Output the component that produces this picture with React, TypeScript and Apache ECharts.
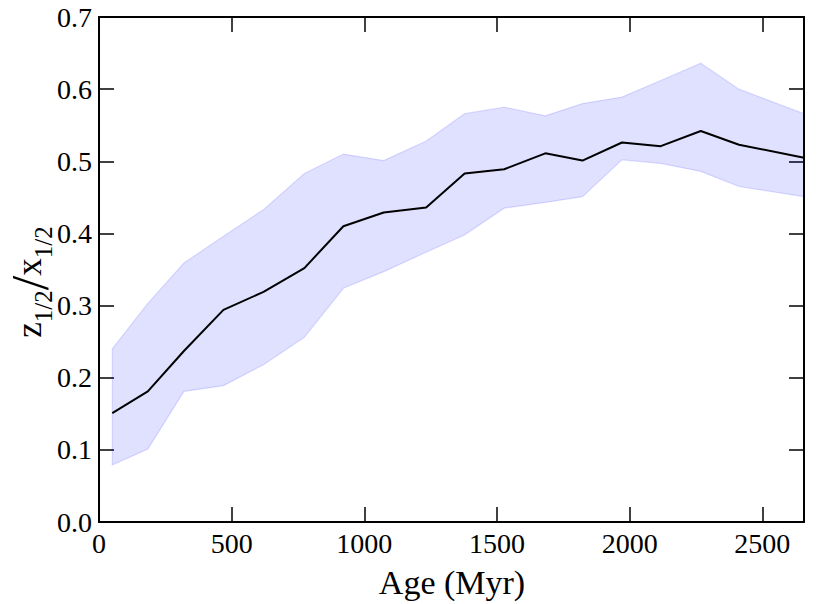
import React, { useEffect, useRef } from "react";
import * as echarts from "echarts";

const ages = [50, 184, 320, 469, 620, 774, 921, 1073, 1233, 1378, 1527, 1682, 1822, 1971, 2117, 2268, 2412, 2657];
const ratioMedian = [0.151, 0.181, 0.237, 0.294, 0.319, 0.352, 0.410, 0.429, 0.436, 0.483, 0.489, 0.511, 0.501, 0.526, 0.521, 0.542, 0.523, 0.505];
const ratioUpper = [0.240, 0.303, 0.359, 0.396, 0.433, 0.483, 0.510, 0.501, 0.528, 0.566, 0.575, 0.563, 0.580, 0.589, 0.612, 0.636, 0.600, 0.566];
const ratioLower = [0.079, 0.101, 0.181, 0.189, 0.218, 0.256, 0.324, 0.347, 0.374, 0.398, 0.435, 0.443, 0.451, 0.502, 0.497, 0.486, 0.465, 0.451];
const xTicks = [0, 500, 1000, 1500, 2000, 2500];

const FONT = "Liberation Serif";

export default function App() {
  const ref = useRef<HTMLDivElement>(null);
  useEffect(() => {
    if (!ref.current) return;
    const chart = echarts.init(ref.current, null, { renderer: "svg" });
    const xMax = ages[ages.length - 1];
    const tickCommon = { show: true, inside: true, length: 15, lineStyle: { color: "#000", width: 1.5 } };
    const lineCommon = { show: true, onZero: false, lineStyle: { color: "#000", width: 2 } };
    chart.setOption({
      animation: false,
      backgroundColor: "#fff",
      textStyle: { fontFamily: FONT },
      grid: { left: 99, right: 26, top: 17, bottom: 82, containLabel: false },
      xAxis: [
        {
          type: "value",
          min: 0,
          max: xMax,
          interval: 500,
          position: "bottom",
          axisLine: lineCommon,
          axisTick: tickCommon,
          splitLine: { show: false },
          axisLabel: {
            show: true,
            margin: 7,
            fontSize: 28,
            fontFamily: FONT,
            color: "#000",
            showMaxLabel: false,
            formatter: (v: number) => (xTicks.indexOf(v) >= 0 ? String(v) : ""),
          },
        },
        {
          type: "value",
          min: 0,
          max: xMax,
          interval: 500,
          position: "top",
          axisLine: lineCommon,
          axisTick: tickCommon,
          splitLine: { show: false },
          axisLabel: { show: false },
        },
      ],
      yAxis: [
        {
          type: "value",
          min: 0,
          max: 0.7,
          interval: 0.1,
          position: "left",
          axisLine: lineCommon,
          axisTick: tickCommon,
          splitLine: { show: false },
          axisLabel: {
            show: true,
            margin: 7,
            fontSize: 28,
            fontFamily: FONT,
            color: "#000",
            formatter: (v: number) => v.toFixed(1),
          },
        },
        {
          type: "value",
          min: 0,
          max: 0.7,
          interval: 0.1,
          position: "right",
          axisLine: lineCommon,
          axisTick: tickCommon,
          splitLine: { show: false },
          axisLabel: { show: false },
        },
      ],
      graphic: [
        {
          type: "text",
          x: 452,
          y: 582,
          style: {
            text: "Age (Myr)",
            align: "center",
            verticalAlign: "middle",
            fill: "#000",
            fontSize: 34,
            fontFamily: FONT,
          },
        },
        {
          type: "text",
          x: 30,
          y: 282,
          rotation: Math.PI / 2,
          style: {
            text: "{m|z}{s|1/2}{b|/}{m|x}{s|1/2}",
            align: "center",
            verticalAlign: "middle",
            fill: "#000",
            rich: {
              m: { fontSize: 35, fontFamily: FONT, color: "#000", verticalAlign: "bottom", padding: [0, 0, 9, 0] },
              b: { fontSize: 52, fontFamily: FONT, color: "#000", verticalAlign: "bottom", padding: [0, 0, 0, 0] },
              s: { fontSize: 25, fontFamily: FONT, color: "#000", verticalAlign: "bottom", padding: [0, 0, 0, 0] },
            },
          },
        },
      ],
      series: [
        {
          type: "custom",
          silent: true,
          clip: true,
          z: 1,
          data: [[ages[0], ratioLower[0]]],
          renderItem: (params: any, api: any) => {
            if (params.dataIndex !== 0) return null;
            const pts: number[][] = [];
            for (let i = 0; i < ages.length; i++) pts.push(api.coord([ages[i], ratioUpper[i]]));
            for (let i = ages.length - 1; i >= 0; i--) pts.push(api.coord([ages[i], ratioLower[i]]));
            return {
              type: "polygon",
              shape: { points: pts },
              style: { fill: "rgba(0,0,255,0.12)", stroke: "rgba(0,0,255,0.12)", lineWidth: 1.2 },
            };
          },
        },
        {
          type: "line",
          z: 3,
          data: ages.map((a, i) => [a, ratioMedian[i]]),
          symbol: "none",
          lineStyle: { color: "#000", width: 2 },
          silent: true,
        },
      ],
    });
    return () => chart.dispose();
  }, []);
  return <div ref={ref} style={{ position: "absolute", left: 0, top: 0, width: 830, height: 604 }} />;
}
